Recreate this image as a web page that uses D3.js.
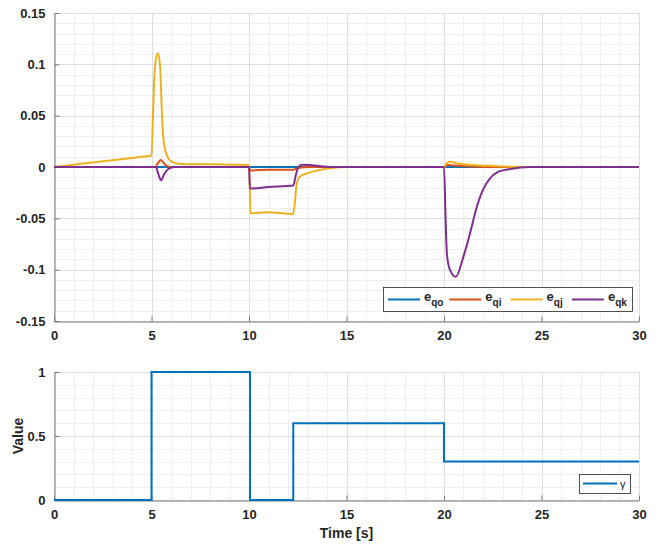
<!DOCTYPE html>
<html>
<head>
<meta charset="utf-8">
<script src="https://cdn.jsdelivr.net/npm/d3@7"></script>
<style>
    body { margin: 0; background: #fff; }
    text { font-family: "Liberation Sans", Arial, sans-serif; fill: #262626; }
</style>
</head>
<body>
<svg id="chart" width="657" height="544"></svg>
<script>
// ----- data -----
const x_ticks = [0, 5, 10, 15, 20, 25, 30];
const top_y_ticks = [-0.15, -0.1, -0.05, 0, 0.05, 0.1, 0.15];
const top_y_labels = ["-0.15", "-0.1", "-0.05", "0", "0.05", "0.1", "0.15"];
const bottom_y_ticks = [0, 0.5, 1];
const bottom_y_labels = ["0", "0.5", "1"];

const series_subs = ["qo", "qi", "qj", "qk"];
const series_colors = ["#0072BD", "#D95319", "#EDB120", "#7E2F8E"];

// [time, value] pairs for every error component
const eqo_data = [[0, 0], [30, 0]];
const eqi_data = [[0, 0], [5.2, 0], [5.3, 0.003], [5.49, 0.0068], [5.62, 0.004], [5.78, 0.001], [5.96, 0],
    [10, 0], [10.08, -0.0036], [10.5, -0.003], [11, -0.0026], [12.27, -0.0026], [12.45, -0.0015],
    [12.6, -0.0007], [13.1, 0], [20, 0], [20.2, 0.002], [20.5, 0.0015], [21.5, 0.0005], [22.5, 0], [30, 0]];
const eqj_data = [[0, 0], [1, 0.0022], [2, 0.0044], [3, 0.0066], [4, 0.0088], [4.96, 0.0109], [5.0, 0.011],
    [5.09, 0.059], [5.18, 0.098], [5.32, 0.1107], [5.44, 0.098],
    [5.52, 0.059], [5.6, 0.0296], [5.78, 0.0117], [6.04, 0.0052], [6.46, 0.003], [8.2, 0.0026],
    [10, 0.002], [10.08, -0.045], [10.9, -0.044], [12.27, -0.0458], [12.45, -0.016], [12.6, -0.0094],
    [13.1, -0.0055], [14.15, -0.0013], [15, 0], [20, 0], [20.15, 0.004], [20.35, 0.005], [20.7, 0.0035],
    [21.5, 0.002], [22.5, 0.001], [24, 0], [30, 0]];
const eqk_data = [[0, 0], [5.22, 0], [5.35, -0.007], [5.49, -0.013], [5.65, -0.007], [5.8, -0.003],
    [5.95, -0.001], [6.2, 0], [10, 0], [10.05, -0.021], [11, -0.0195], [12.27, -0.018], [12.4, -0.008],
    [12.53, 0], [12.7, 0.0023], [13.1, 0.002], [13.6, 0.0008], [14.15, 0], [20, 0], [20.08, -0.05],
    [20.15, -0.085], [20.3, -0.1], [20.6, -0.107], [21, -0.087], [21.33, -0.065], [21.68, -0.039],
    [22, -0.022], [22.36, -0.011], [22.7, -0.0055], [23.4, -0.002], [24.4, 0], [30, 0]];

// gamma is a step signal (value holds until the next time)
const gamma_time = [0, 5, 10.05, 12.27, 20, 30];
const gamma_values = [0, 1, 0, 0.6, 0.3, 0.3];

// ----- layout -----
const svg = d3.select("#chart");
const plot_left = 54, plot_right = 639;
const top_panel = { top: 13, bottom: 321 };
const bottom_panel = { top: 372, bottom: 500 };

const x_scale = d3.scaleLinear().domain([0, 30]).range([plot_left, plot_right]);
const top_y_scale = d3.scaleLinear().domain([-0.15, 0.15]).range([top_panel.bottom, top_panel.top]);
const bottom_y_scale = d3.scaleLinear().domain([0, 1]).range([bottom_panel.bottom, bottom_panel.top]);

// Function to draw grids, axes and tick labels of one panel
function draw_panel(y_scale, panel, y_ticks, y_labels, y_minor) {
    const g = svg.append("g");
    const x_minor = d3.range(0, 31, 1);

    // minor grid
    g.selectAll(".vminor").data(x_minor).enter().append("line")
        .attr("x1", d => Math.round(x_scale(d)) + 0.5).attr("x2", d => Math.round(x_scale(d)) + 0.5)
        .attr("y1", panel.top).attr("y2", panel.bottom)
        .attr("stroke", "#efefef").attr("stroke-width", 1);
    g.selectAll(".hminor").data(y_minor).enter().append("line")
        .attr("x1", plot_left).attr("x2", plot_right)
        .attr("y1", d => Math.round(y_scale(d)) + 0.5).attr("y2", d => Math.round(y_scale(d)) + 0.5)
        .attr("stroke", "#efefef").attr("stroke-width", 1);

    // major grid
    g.selectAll(".vmajor").data(x_ticks).enter().append("line")
        .attr("x1", d => Math.round(x_scale(d)) + 0.5).attr("x2", d => Math.round(x_scale(d)) + 0.5)
        .attr("y1", panel.top).attr("y2", panel.bottom)
        .attr("stroke", "#dedede").attr("stroke-width", 1);
    g.selectAll(".hmajor").data(y_ticks).enter().append("line")
        .attr("x1", plot_left).attr("x2", plot_right)
        .attr("y1", d => Math.round(y_scale(d)) + 0.5).attr("y2", d => Math.round(y_scale(d)) + 0.5)
        .attr("stroke", "#dedede").attr("stroke-width", 1);

    // x axis with inward ticks
    const x_axis = g.append("g")
        .attr("transform", "translate(0," + (panel.bottom + 0.5) + ")")
        .call(d3.axisBottom(x_scale).tickValues(x_ticks).tickSizeInner(-5).tickSizeOuter(0).tickPadding(9).tickFormat(d3.format("d")));
    x_axis.select(".domain").attr("stroke", "#7a7a7a");
    x_axis.selectAll(".tick line").attr("stroke", "#7a7a7a");
    x_axis.selectAll("text").attr("font-size", 13).attr("font-weight", "bold")
        .attr("font-family", "'Liberation Sans', Arial, sans-serif").attr("fill", "#262626");

    // y axis with inward ticks
    const y_axis = g.append("g")
        .attr("transform", "translate(" + (plot_left + 0.5) + ",0)")
        .call(d3.axisLeft(y_scale).tickValues(y_ticks).tickSizeInner(-5).tickSizeOuter(0).tickPadding(9)
            .tickFormat((d, i) => y_labels[i]));
    y_axis.select(".domain").attr("stroke", "#7a7a7a");
    y_axis.selectAll(".tick line").attr("stroke", "#7a7a7a");
    y_axis.selectAll("text").attr("font-size", 13).attr("font-weight", "bold")
        .attr("font-family", "'Liberation Sans', Arial, sans-serif").attr("fill", "#262626");
}

draw_panel(top_y_scale, top_panel, top_y_ticks, top_y_labels, d3.range(-15, 16, 1).map(d => d / 100));
draw_panel(bottom_y_scale, bottom_panel, bottom_y_ticks, bottom_y_labels, d3.range(0, 11, 1).map(d => d / 10));

// ----- error curves -----
const error_line = d3.line()
    .curve(d3.curveMonotoneX)
    .x(d => x_scale(d[0]))
    .y(d => top_y_scale(d[1]));

[eqo_data, eqi_data, eqj_data, eqk_data].forEach(function (series, i) {
    svg.append("path")
        .datum(series)
        .attr("fill", "none")
        .attr("stroke", series_colors[i])
        .attr("stroke-width", 2)
        .attr("stroke-linejoin", "round")
        .attr("d", error_line);
});

// ----- gamma step -----
const gamma_line = d3.line()
    .curve(d3.curveStepAfter)
    .x(d => x_scale(d[0]))
    .y(d => bottom_y_scale(d[1]));

svg.append("path")
    .datum(gamma_time.map((t, i) => [t, gamma_values[i]]))
    .attr("fill", "none")
    .attr("stroke", series_colors[0])
    .attr("stroke-width", 2)
    .attr("d", gamma_line);

// ----- legends -----
const top_legend = svg.append("g");
top_legend.append("rect")
    .attr("x", 383.5).attr("y", 287.5).attr("width", 249).attr("height", 24)
    .attr("fill", "#fff").attr("stroke", "#262626").attr("stroke-width", 0.8);
series_subs.forEach(function (sub, i) {
    const x0 = 388 + i * 61.3;
    top_legend.append("line")
        .attr("x1", x0).attr("x2", x0 + 32).attr("y1", 299.5).attr("y2", 299.5)
        .attr("stroke", series_colors[i]).attr("stroke-width", 2);
    const label = top_legend.append("text")
        .attr("x", x0 + 36).attr("y", 300.5)
        .attr("font-size", 13).attr("font-weight", "bold");
    label.append("tspan").text("e");
    label.append("tspan").attr("dy", 5.5).attr("font-size", 10).text(sub);
});

const bottom_legend = svg.append("g");
bottom_legend.append("rect")
    .attr("x", 579.5).attr("y", 474.5).attr("width", 51).attr("height", 19)
    .attr("fill", "#fff").attr("stroke", "#262626").attr("stroke-width", 0.8);
bottom_legend.append("line")
    .attr("x1", 583).attr("x2", 617).attr("y1", 483.5).attr("y2", 483.5)
    .attr("stroke", series_colors[0]).attr("stroke-width", 2);
bottom_legend.append("text")
    .attr("x", 620).attr("y", 488)
    .attr("font-size", 11)
    .text("γ");

// ----- axis titles -----
svg.append("text")
    .attr("x", (plot_left + plot_right) / 2).attr("y", 538)
    .attr("text-anchor", "middle")
    .attr("font-size", 14).attr("font-weight", "bold")
    .text("Time [s]");
svg.append("text")
    .attr("transform", "translate(23," + ((bottom_panel.top + bottom_panel.bottom) / 2) + ") rotate(-90)")
    .attr("text-anchor", "middle")
    .attr("font-size", 14).attr("font-weight", "bold")
    .text("Value");
</script>
</body>
</html>
